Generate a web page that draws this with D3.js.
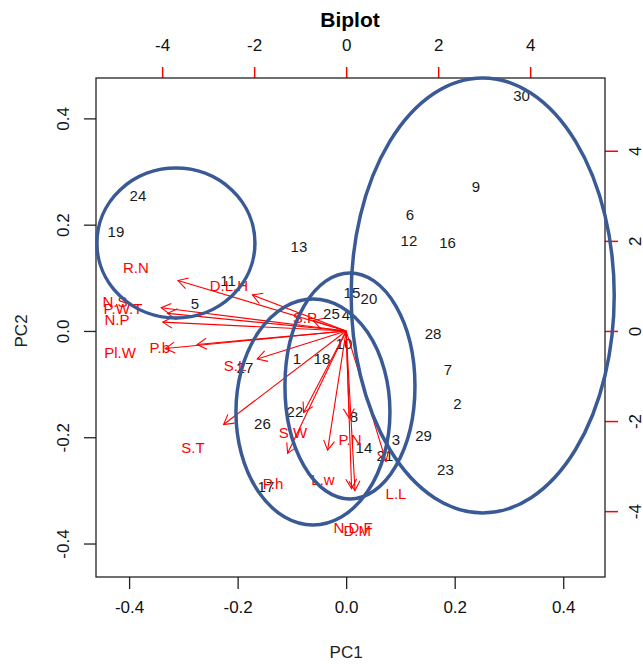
<!DOCTYPE html>
<html>
<head>
<meta charset="utf-8">
<script src="https://cdn.jsdelivr.net/npm/d3@7"></script>
<style>
  body { margin: 0; background: #fff; }
  text { font-family: "Liberation Sans", Arial, sans-serif; }
</style>
</head>
<body>
<div id="biplot"></div>
<script>
// observation scores (PC1, PC2)
var obsLabels = ["1","2","3","4","5","6","7","8","9","10","11","12","13","14","15",
                 "16","17","18","19","20","21","22","23","24","25","26","27","28","29","30"];
var pc1 = [-0.0907, 0.2051, 0.0918, -0.0004, -0.2787, 0.1176, 0.1876, 0.0144, 0.2392, -0.0041,
           -0.2178, 0.1157, -0.0870, 0.0328, 0.0107, 0.1867, -0.1478, -0.0446, -0.4243, 0.0420,
           0.0715, -0.0944, 0.1830, -0.3837, -0.0271, -0.1543, -0.1865, 0.1600, 0.1425, 0.3231];
var pc2 = [-0.0527, -0.1374, -0.2051, 0.0301, 0.0508, 0.2192, -0.0725, -0.1609, 0.2710, -0.0245,
           0.0941, 0.1694, 0.1581, -0.2202, 0.0725, 0.1656, -0.2926, -0.0527, 0.1863, 0.0602,
           -0.2352, -0.1515, -0.2616, 0.2540, 0.0329, -0.1750, -0.0696, -0.0047, -0.1976, 0.4432];

// variable loadings (top / right axis units)
var varNames = ["R.N","D.L.H","N.S","P.W.T","N.P","Pl.W","P.b","S.L","S.T","S.P",
                "S.W","P.h","L.w","P.N","L.L","N.D.F","D.M"];
var load1 = [-4.570, -2.548, -5.026, -4.852, -4.983, -4.917, -4.050, -2.417, -3.330, -0.896,
             -1.157, -1.591, -0.504, 0.083, 1.083, 0.148, 0.240];
var load2 = [1.398, 0.999, 0.644, 0.488, 0.244, -0.488, -0.377, -0.777, -2.597, 0.289,
             -2.264, -3.396, -3.308, -2.420, -3.618, -4.373, -4.430];

// group ellipses (PC units)
var ellCx = [-0.3137, 0.2516, -0.0612, 0.0070];
var ellCy = [0.1656, 0.0668, -0.1524, -0.1035];
var ellRx = [0.1456, 0.2424, 0.1419, 0.1198];
var ellRy = [0.1411, 0.4093, 0.2126, 0.2126];

var ticksMain = [-0.4, -0.2, 0, 0.2, 0.4];
var ticksLoad = [-4, -2, 0, 2, 4];

// dimensions
var margin = {top: 78, right: 38, bottom: 87, left: 96},
    width = 643 - margin.left - margin.right,
    height = 664 - margin.top - margin.bottom;

var svg = d3.select("#biplot")
    .append("svg")
    .attr("width", 643)
    .attr("height", 664);

var g = svg.append("g")
    .attr("transform", "translate(" + margin.left + "," + margin.top + ")");

var x = d3.scaleLinear().domain([-0.461, 0.477]).range([0, width]);
var y = d3.scaleLinear().domain([-0.463, 0.476]).range([height, 0]);

// loadings share the origin, just scaled
var k = 0.08477;
var xl = d3.scaleLinear().domain(x.domain().map(d => d / k)).range([0, width]);
var yl = d3.scaleLinear().domain(y.domain().map(d => d / k)).range([height, 0]);

// R style labels, plain hyphen for minus
var fmtMain = d => d.toFixed(1);
var fmtLoad = d => String(d);

// bottom axis
var xAxis = g.append("g")
    .attr("transform", "translate(0," + height + ")")
    .call(d3.axisBottom(x).tickValues(ticksMain).tickSize(12).tickPadding(12).tickFormat(fmtMain));

// left axis
var yAxis = g.append("g")
    .call(d3.axisLeft(y).tickValues(ticksMain).tickSize(12).tickFormat(fmtMain));
yAxis.selectAll(".tick text")
    .attr("x", 0).attr("dy", 0)
    .attr("transform", "translate(-33,0) rotate(-90)")
    .style("text-anchor", "middle")
    .attr("dominant-baseline", "central");

// top axis (red ticks)
var topAxis = g.append("g")
    .call(d3.axisTop(xl).tickValues(ticksLoad).tickSize(11).tickPadding(16).tickFormat(fmtLoad));
topAxis.selectAll(".tick line").attr("stroke", "red").attr("stroke-width", 1.5);

// right axis (red ticks)
var rightAxis = g.append("g")
    .attr("transform", "translate(" + width + ",0)")
    .call(d3.axisRight(yl).tickValues(ticksLoad).tickSize(13).tickFormat(fmtLoad));
rightAxis.selectAll(".tick line").attr("stroke", "red").attr("stroke-width", 1.5);
rightAxis.selectAll(".tick text")
    .attr("x", 0).attr("dy", 0)
    .attr("transform", "translate(30,0) rotate(-90)")
    .style("text-anchor", "middle")
    .attr("dominant-baseline", "central");

[xAxis, yAxis, topAxis, rightAxis].forEach(function(a) {
    a.select(".domain").remove();
    a.selectAll(".tick text")
        .style("font-size", "17px")
        .style("font-family", "Liberation Sans, Arial, sans-serif")
        .attr("fill", "#111");
});
xAxis.selectAll(".tick line").attr("stroke", "#222").attr("stroke-width", 1.3);
yAxis.selectAll(".tick line").attr("stroke", "#222").attr("stroke-width", 1.3);

// frame
g.append("rect")
    .attr("width", width)
    .attr("height", height)
    .attr("fill", "none")
    .attr("stroke", "#222")
    .attr("stroke-width", 1.3);

// observation labels
g.append("g")
    .selectAll("text")
    .data(obsLabels)
    .enter()
    .append("text")
    .attr("x", (d, i) => x(pc1[i]))
    .attr("y", (d, i) => y(pc2[i]))
    .attr("dy", "0.36em")
    .style("text-anchor", "middle")
    .style("font-size", "15px")
    .attr("fill", "#1a1a1a")
    .text(d => d);

// arrows to 0.8 of the loading, label at the loading
var headLen = 11, headAng = Math.PI / 6;
var arrows = g.append("g").attr("stroke", "red").attr("stroke-width", 1.1).attr("fill", "none");
varNames.forEach(function(name, i) {
    var x0 = xl(0), y0 = yl(0);
    var x1 = xl(load1[i] * 0.8), y1 = yl(load2[i] * 0.8);
    var a = Math.atan2(y1 - y0, x1 - x0);
    arrows.append("line")
        .attr("x1", x0).attr("y1", y0)
        .attr("x2", x1).attr("y2", y1);
    arrows.append("path")
        .attr("d", "M" + (x1 - headLen * Math.cos(a - headAng)) + "," + (y1 - headLen * Math.sin(a - headAng)) +
                   "L" + x1 + "," + y1 +
                   "L" + (x1 - headLen * Math.cos(a + headAng)) + "," + (y1 - headLen * Math.sin(a + headAng)));
});

g.append("g")
    .selectAll("text")
    .data(varNames)
    .enter()
    .append("text")
    .attr("x", (d, i) => xl(load1[i]))
    .attr("y", (d, i) => yl(load2[i]))
    .attr("dy", "0.36em")
    .style("text-anchor", "middle")
    .style("font-size", "15px")
    .attr("fill", "red")
    .text(d => d);

// cluster ellipses on top
g.append("g")
    .selectAll("ellipse")
    .data(ellCx)
    .enter()
    .append("ellipse")
    .attr("cx", (d, i) => x(ellCx[i]))
    .attr("cy", (d, i) => y(ellCy[i]))
    .attr("rx", (d, i) => x(ellRx[i]) - x(0))
    .attr("ry", (d, i) => y(0) - y(ellRy[i]))
    .attr("fill", "none")
    .attr("stroke", "#3a5a95")
    .attr("stroke-width", 3.5);

// titles
svg.append("text")
    .attr("x", 350)
    .attr("y", 27)
    .style("text-anchor", "middle")
    .style("font-size", "21px")
    .style("font-weight", "bold")
    .text("Biplot");

svg.append("text")
    .attr("x", margin.left + x(0))
    .attr("y", 658)
    .style("text-anchor", "middle")
    .style("font-size", "17px")
    .attr("fill", "#222")
    .text("PC1");

svg.append("text")
    .attr("transform", "translate(27," + (margin.top + y(0)) + ") rotate(-90)")
    .style("text-anchor", "middle")
    .style("font-size", "17px")
    .attr("fill", "#222")
    .text("PC2");
</script>
</body>
</html>
